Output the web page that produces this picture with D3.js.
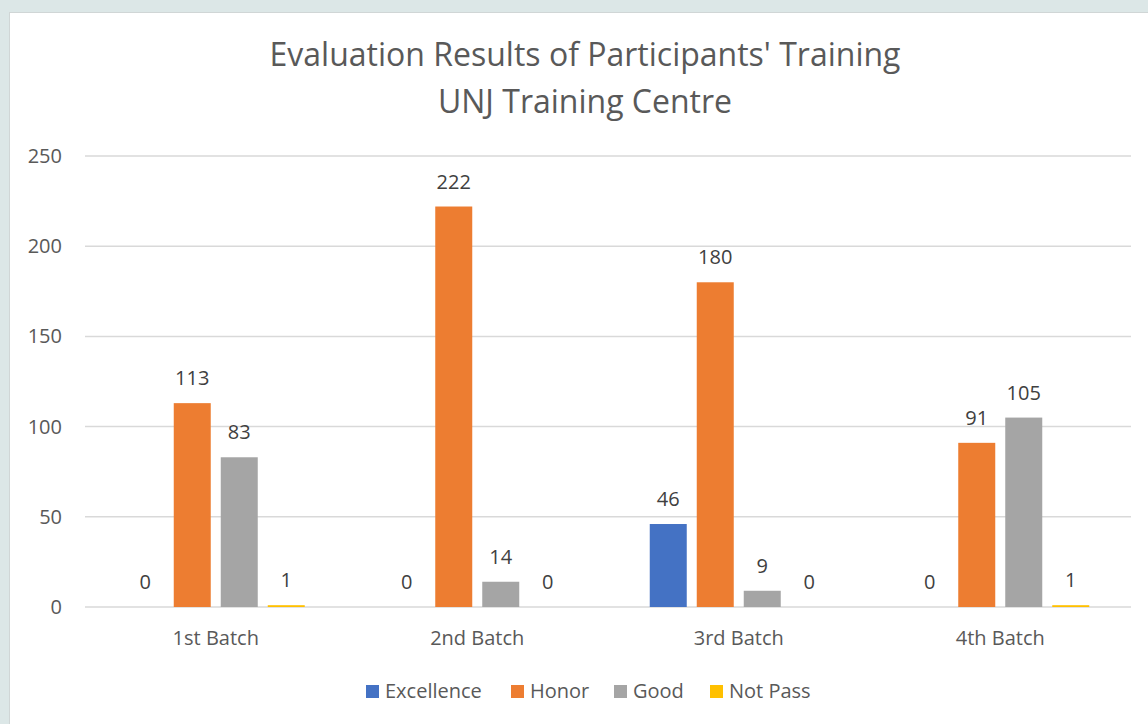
<!DOCTYPE html>
<html><head>
<meta charset="utf-8">
<script src="https://d3js.org/d3.v7.min.js"></script>
<style>
  body { margin: 0; background: #dce7e7; }
  svg { display: block; }
</style>
</head>
<body>
<svg id="chart" width="1148" height="724"></svg>
<script>
// data
const batches = ["1st Batch", "2nd Batch", "3rd Batch", "4th Batch"];
const grades = ["Excellence", "Honor", "Good", "Not Pass"];
const excellence = [0, 0, 46, 0];
const honor = [113, 222, 180, 91];
const good = [83, 14, 9, 105];
const notPass = [1, 0, 0, 1];
const yTicks = [0, 50, 100, 150, 200, 250];
const colors = ["#4472c4", "#ed7d31", "#a5a5a5", "#ffc000"];

const series = [excellence, honor, good, notPass];

let svg = d3.select("svg#chart");
const font = "'Open Sans', sans-serif";
const margins = {top: 156, right: 17, bottom: 117, left: 85};
const width = +svg.attr("width");
const height = +svg.attr("height");

// backdrop + white chart panel
svg.append("rect").attr("width", width).attr("height", height).style("fill", "#dce7e7");
svg.append("rect")
   .attr("x", 9.5).attr("y", 12.5)
   .attr("width", width).attr("height", height)
   .style("fill", "#ffffff")
   .style("stroke", "#d0d6d6");

let x = d3.scaleBand()
          .domain(batches)
          .range([margins.left, width - margins.right])
          .paddingInner(0).paddingOuter(0);

let y = d3.scaleLinear()
          .domain([0, 250])
          .range([height - margins.bottom, margins.top]);

// inner scale for the four bars in each group
const barW = 37, gap = 10;
let x1 = d3.scaleBand()
           .domain(grades)
           .range([0, 4 * barW + 3 * gap])
           .paddingInner(gap / (barW + gap)).paddingOuter(0);
const groupOffset = (x.bandwidth() - (4 * barW + 3 * gap)) / 2;

// gridlines + y tick labels
yTicks.forEach(t => {
  svg.append("line")
     .attr("x1", margins.left).attr("x2", width - margins.right)
     .attr("y1", y(t)).attr("y2", y(t))
     .style("stroke", "#d9d9d9")
     .style("stroke-width", 1.5);
  svg.append("text")
     .attr("x", 62).attr("y", y(t))
     .attr("dy", "0.35em")
     .attr("text-anchor", "end")
     .style("font-family", font).style("font-size", "20px")
     .style("fill", "#595959")
     .text(t);
});

// bars + labels
batches.forEach((b, i) => {
  grades.forEach((g, j) => {
    let v = series[j][i];
    let bx = x(b) + groupOffset + x1(g);
    svg.append("rect")
       .attr("x", bx)
       .attr("y", y(v))
       .attr("width", x1.bandwidth())
       .attr("height", y(0) - y(v))
       .style("fill", colors[j]);
    svg.append("text")
       .attr("x", bx + x1.bandwidth() / 2)
       .attr("y", y(v) - 25)
       .attr("dy", "0.35em")
       .attr("text-anchor", "middle")
       .style("font-family", font).style("font-size", "20px")
       .style("fill", "#404040")
       .text(v);
  });
  svg.append("text")
     .attr("x", x(b) + x.bandwidth() / 2)
     .attr("y", 638)
     .attr("dy", "0.35em")
     .attr("text-anchor", "middle")
     .style("font-family", font).style("font-size", "20px")
     .style("fill", "#595959")
     .text(b);
});

// title
const titleLines = ["Evaluation Results of Participants' Training", "UNJ Training Centre"];
titleLines.forEach((t, i) => {
  svg.append("text")
     .attr("x", 585).attr("y", 55 + i * 47)
     .attr("dy", "0.35em")
     .attr("text-anchor", "middle")
     .style("font-family", font).style("font-size", "32px")
     .style("fill", "#595959")
     .text(t);
});

// legend
const legendX = [366, 511, 614, 710];
grades.forEach((g, j) => {
  svg.append("rect")
     .attr("x", legendX[j]).attr("y", 685)
     .attr("width", 13).attr("height", 13)
     .style("fill", colors[j]);
  svg.append("text")
     .attr("x", legendX[j] + 19).attr("y", 691)
     .attr("dy", "0.35em")
     .style("font-family", font).style("font-size", "20px")
     .style("fill", "#595959")
     .text(g);
});
</script>
</body></html>
